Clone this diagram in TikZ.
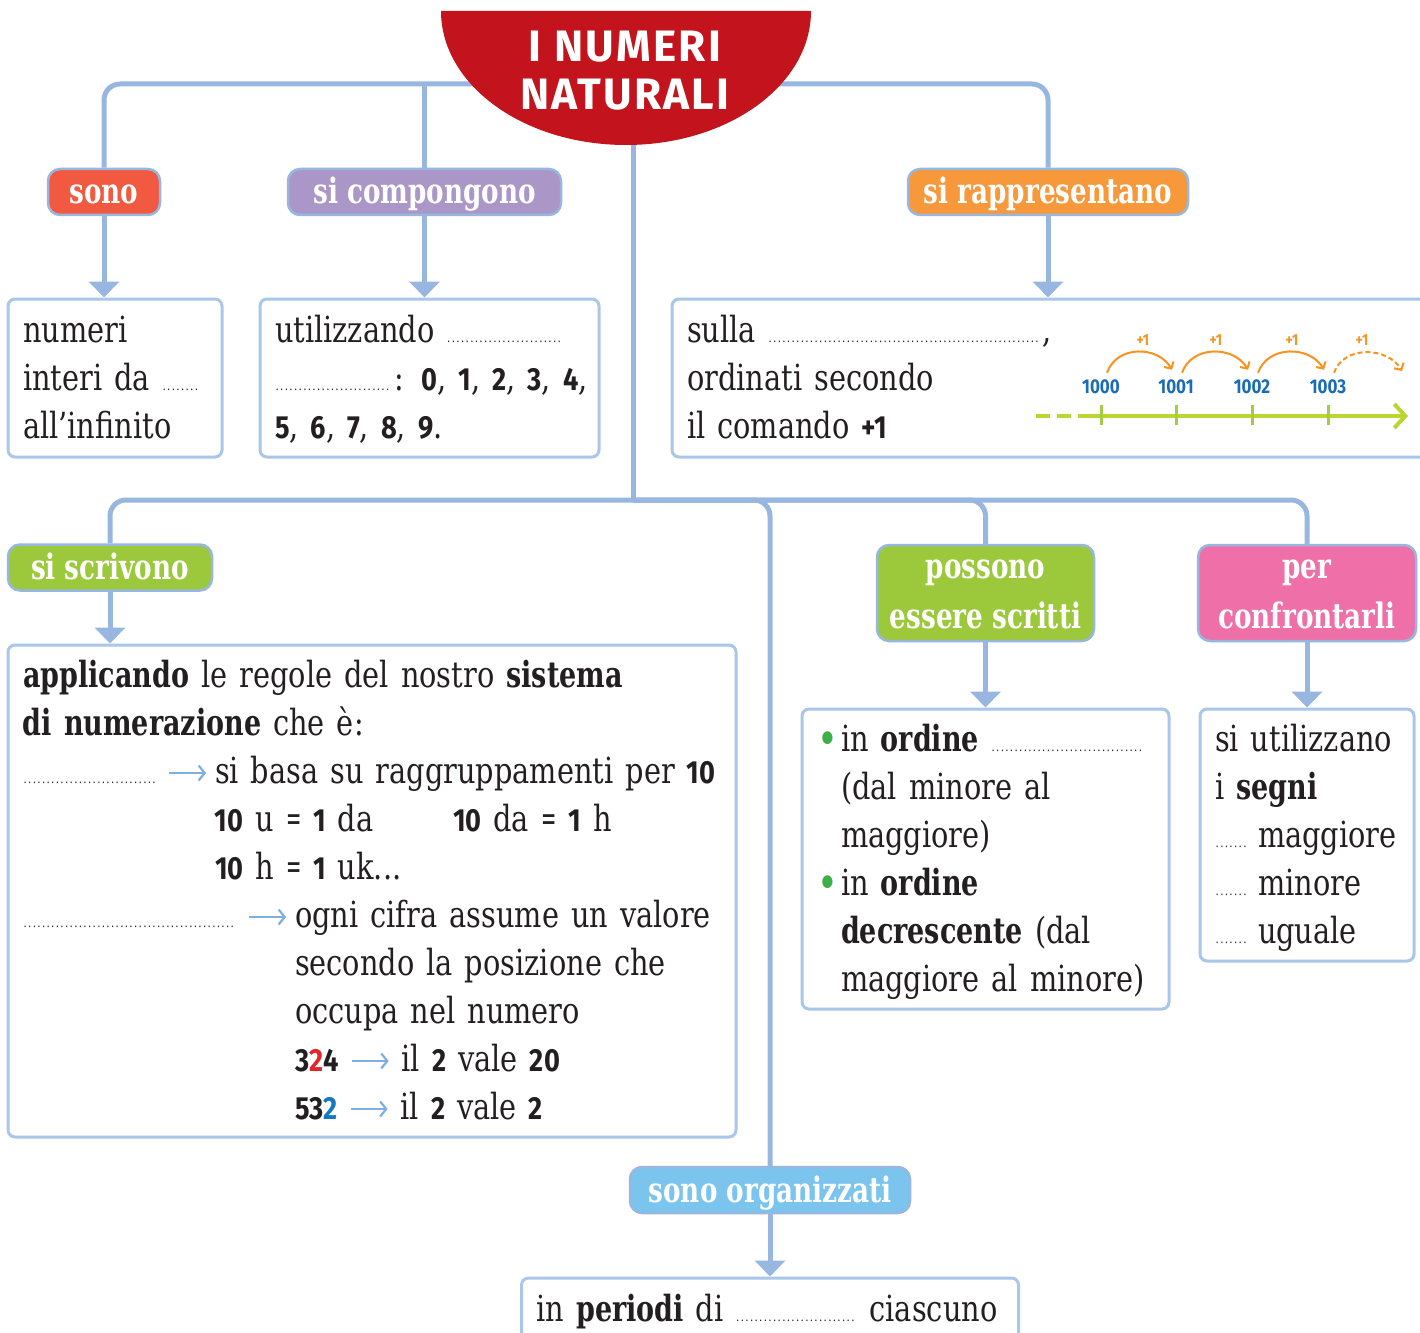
\documentclass[tikz,border=0pt]{standalone}
\usepackage{fontspec}
\setmainfont{DejaVu Serif}[FakeStretch=0.80, BoldFeatures={FakeStretch=0.75}]
\newfontfamily\cifrafont{Fira Sans}[FakeStretch=0.85]
\newfontfamily\titolofont{Fira Sans}[LetterSpace=5]
\usetikzlibrary{arrows.meta}

\definecolor{linkblue}{HTML}{97B7E1}
\definecolor{boxblue}{HTML}{A9C6EB}
\definecolor{titlered}{HTML}{C3131C}
\definecolor{sonored}{HTML}{F15A40}
\definecolor{lilla}{HTML}{AA97C7}
\definecolor{arancio}{HTML}{F7993A}
\definecolor{verde}{HTML}{9CC93B}
\definecolor{rosa}{HTML}{EF70A9}
\definecolor{celeste}{HTML}{7BC4EE}
\definecolor{numblue}{HTML}{1A6DB4}
\definecolor{plusorange}{HTML}{F7931E}
\definecolor{assegreen}{HTML}{BCD631}
\definecolor{tickgreen}{HTML}{A5CC45}
\definecolor{dotgreen}{HTML}{3EAE49}
\definecolor{rosso}{HTML}{E4262A}
\definecolor{blu}{HTML}{1479C0}
\definecolor{ink}{HTML}{231F20}
\definecolor{arrowblue}{HTML}{7FAEE0}

\newcommand\cifra[1]{{\cifrafont\bfseries\fontsize{32}{48}\selectfont #1}}
\newcommand\ug{{\cifrafont\fontsize{36}{48}\selectfont=}}
\newcommand\riga[1]{\hbox to #1{\leaders\hbox to 4.6pt{\hss\fontsize{13}{13}\selectfont.\hss}\hfill}}
\newcommand\freccia{\tikz[baseline=-10pt]\draw[draw=arrowblue, line width=2.2pt, -{Straight Barb[length=6pt,width=15pt]}] (0pt,0pt) -- (37pt,0pt);}
\newcommand\punto{\makebox[24pt][l]{\raisebox{-3pt}{\textcolor{dotgreen}{\fontsize{44}{48}\selectfont\textbullet}}}}

\tikzset{
  conn/.style={draw=linkblue, line width=5pt},
  arr/.style={conn, -{Triangle[width=30pt,length=16pt]}},
  tag/.style={draw=linkblue, line width=2.5pt, rounded corners=12pt, text=white,
    font=\bfseries\fontsize{35}{50}\selectfont, align=center},
  tagone/.style={tag, minimum height=46pt, text height=24pt, text depth=0pt},
  tagtwo/.style={tag, minimum height=96pt, text height=74pt, text depth=4pt},
  box/.style={draw=boxblue, line width=3pt, rounded corners=7pt, fill=white, text=ink,
    font=\fontsize{36}{48}\selectfont, align=left, inner xsep=15pt, text height=24pt},
  numlab/.style={text=numblue, font=\cifrafont\bfseries\fontsize{20}{20}\selectfont, inner sep=1pt},
  piu/.style={text=plusorange, font=\cifrafont\bfseries\fontsize{16}{16}\selectfont, inner sep=1pt},
  salto/.style={draw=plusorange, line width=2pt, -{Straight Barb[length=5pt,width=11pt]}},
  asse/.style={draw=assegreen, line width=4pt},
}

\begin{document}
\begin{tikzpicture}[x=1pt, y=-1pt]
\useasboundingbox (0,0) rectangle (1420,1332);

% etichette
\node[tagone, fill=sonored, minimum width=112pt] (sono) at (104,192) {sono};
\node[tagone, fill=lilla, minimum width=273pt] (comp) at (424.5,192) {si compongono};
\node[tagone, fill=arancio, minimum width=280pt] (rapp) at (1048,192) {si rappresentano};
\node[tagone, fill=verde, minimum width=204pt] (scriv) at (110,567.5) {si scrivono};
\node[tagtwo, fill=verde, minimum width=217pt] (possono) at (985.5,593) {possono\\essere scritti};
\node[tagtwo, fill=rosa, minimum width=218pt] (confr) at (1307,593) {per\\confrontarli};
\node[tagone, fill=celeste, minimum width=280pt] (organ) at (770,1190) {sono organizzati};

% riquadri
\node[box, text width=184pt, minimum height=158pt, text depth=96pt] (interi) at (115,378)
  {numeri\\interi da \riga{38pt}\\all'infinito};
\node[box, text width=309pt, minimum height=158pt, text depth=96pt] (cifre) at (429.5,378)
  {\mbox{utilizzando \riga{118pt}}\\
   \mbox{\riga{119pt}: \cifra{0}, \cifra{1}, \cifra{2}, \cifra{3}, \cifra{4},}\\
   \cifra{5}, \cifra{6}, \cifra{7}, \cifra{8}, \cifra{9}.};
\node[box, text width=738pt, minimum height=158pt, text depth=96pt] (retta) at (1056,378)
  {sulla \riga{275pt},\\ordinati secondo\\il comando \cifra{+1}};
\node[box, text width=698pt, minimum height=492pt, text depth=432pt] (regole) at (372,891)
  {\mbox{\textbf{applicando} le regole del nostro \textbf{sistema}}\\
   \textbf{di numerazione} che è:\\
   \mbox{\makebox[192pt][l]{\riga{135pt}\hspace{10pt}\freccia}si basa su raggruppamenti per \cifra{10}}\\
   \mbox{\hspace*{192pt}\makebox[238pt][l]{\cifra{10} u \ug{} \cifra{1} da}\cifra{10} da \ug{} \cifra{1} h}\\
   \hspace*{192pt}\cifra{10} h \ug{} \cifra{1} uk...\\
   \mbox{\makebox[272pt][l]{\riga{215pt}\hspace{10pt}\freccia}ogni cifra assume un valore}\\
   \mbox{\hspace*{272pt}secondo la posizione che}\\
   \mbox{\hspace*{272pt}occupa nel numero}\\
   \mbox{\hspace*{272pt}\cifra{3\textcolor{rosso}{2}4} \freccia{} il \cifra{2} vale \cifra{20}}\\
   \mbox{\hspace*{272pt}\cifra{53\textcolor{blu}{2}} \freccia{} il \cifra{2} vale \cifra{2}}};
\node[box, text width=337pt, minimum height=300pt, text depth=240pt] (ordine) at (985.5,859)
  {\mbox{\punto in \textbf{ordine} \riga{155pt}}\\
   \hspace*{24pt}(dal minore al\\
   \hspace*{24pt}maggiore)\\
   \punto in \textbf{ordine}\\
   \mbox{\hspace*{24pt}\textbf{decrescente} (dal}\\
   \mbox{\hspace*{24pt}maggiore al minore)}};
\node[box, text width=184pt, minimum height=252pt, text depth=192pt] (segni) at (1307,835)
  {\mbox{si utilizzano}\\i \textbf{segni}\\
   \mbox{\riga{33pt}\hspace{10pt}maggiore}\\
   \mbox{\riga{33pt}\hspace{10pt}minore}\\
   \mbox{\riga{33pt}\hspace{10pt}uguale}};
\node[box, text width=467pt, minimum height=62pt, text depth=0pt] (periodi) at (770,1309)
  {\mbox{in \textbf{periodi} di \riga{122pt} ciascuno}};

% collegamenti
\coordinate (top) at (633,84);
\coordinate (mid) at (633,500);
\draw[conn, rounded corners=16pt] (sono.north) |- (top) -| (rapp.north);
\draw[conn] (comp.north) -- (comp.north |- top);
\draw[conn] (top) -- (mid);
\draw[conn, rounded corners=16pt] (scriv.north) |- (mid) -| (confr.north);
\draw[conn, rounded corners=16pt] (mid) -| (possono.north);
\draw[conn, rounded corners=16pt] (mid) -| (organ.north);

\draw[arr] (sono.south) -- (sono.south |- interi.north);
\draw[arr] (comp.south) -- (comp.south |- cifre.north);
\draw[arr] (rapp.south) -- (rapp.south |- retta.north);
\draw[arr] (scriv.south) -- (scriv.south |- regole.north);
\draw[arr] (possono.south) -- (possono.south |- ordine.north);
\draw[arr] (confr.south) -- (confr.south |- segni.north);
\draw[arr] (organ.south) -- (organ.south |- periodi.north);

% linea dei numeri
\foreach \v/\x in {0/1101,1/1176,2/1252,3/1328}
  \node[numlab] (n\v) at (\x,387) {100\v};
\coordinate (n4) at (1402,371);
\coordinate (a0) at (1036,416);
\coordinate (a1) at (1088,416);
\coordinate (a2) at (1408,416);
\draw[asse, dash pattern=on 14pt off 7pt] (a0) -- (a1);
\draw[asse, -{Straight Barb[length=11pt,width=24pt]}] (a1) -- (a2);
\foreach \v in {0,...,3}
  \draw[tickgreen, line width=3pt] (n\v |- a0) ++(0,-11) -- ++(0,20);
\foreach \a/\b in {0/1,1/2,2/3}
  \draw[salto] ([xshift=6pt,yshift=6pt]n\a.north) .. controls +(10,-28) and +(-14,-24) .. ([xshift=-4pt,yshift=9pt]n\b.north);
\draw[salto, dash pattern=on 5pt off 3pt] ([xshift=6pt,yshift=6pt]n3.north) .. controls +(10,-28) and +(-14,-24) .. (n4);
\foreach \x [count=\i] in {1143,1216,1292,1362}
  \node[piu] (p\i) at (\x,340) {+1};

% titolo
\fill[titlered] (441,11) arc[start angle=180, end angle=0, x radius=185, y radius=134] -- cycle;
\node[text=white, align=center, font=\titolofont\bfseries\fontsize{44}{48}\selectfont] (title) at (625,71) {I NUMERI\\NATURALI};
\end{tikzpicture}
\end{document}
